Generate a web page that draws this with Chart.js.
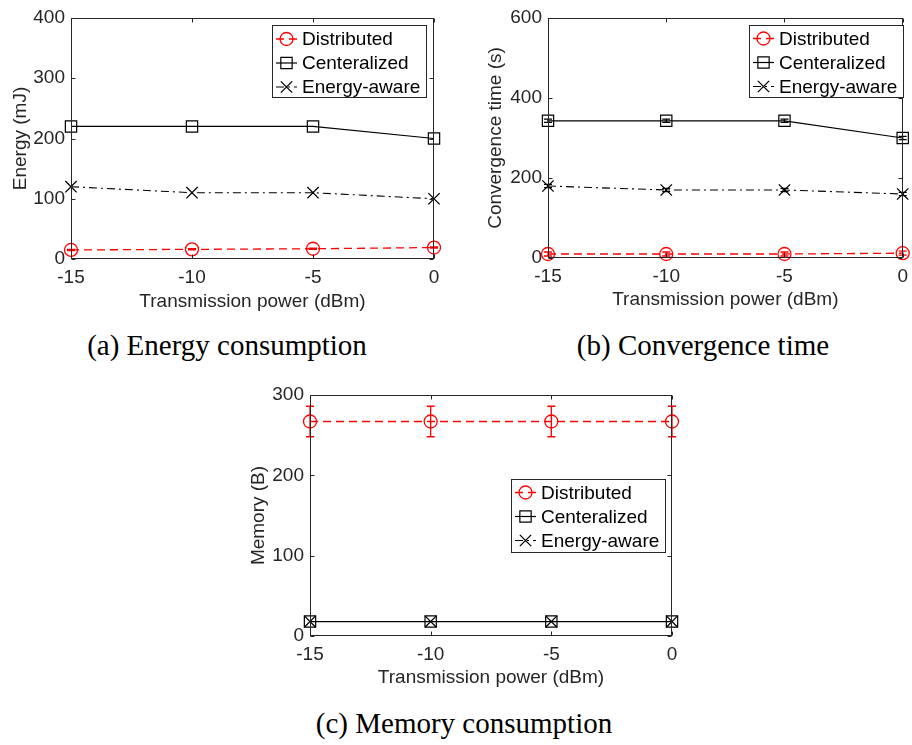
<!DOCTYPE html>
<html>
<head>
<meta charset="utf-8">
<script src="https://cdn.jsdelivr.net/npm/chart.js@4.4.0/dist/chart.umd.min.js"></script>
<style>
html,body{margin:0;padding:0;background:#fff;}
body{width:912px;height:745px;position:relative;overflow:hidden;}
.pane{position:absolute;}
.pane canvas{display:block;}
.cap{position:absolute;font-family:"Liberation Serif","Times New Roman",serif;font-size:29px;line-height:29px;white-space:nowrap;color:#000;transform:translateX(-50%);}
</style>
</head>
<body>
<div class="pane" style="left:0;top:0;width:460px;height:320px"><canvas id="ca" width="460" height="320"></canvas></div>
<div class="pane" style="left:460px;top:0;width:452px;height:320px"><canvas id="cb" width="452" height="320"></canvas></div>
<div class="pane" style="left:240px;top:380px;width:460px;height:320px"><canvas id="cc" width="460" height="320"></canvas></div>
<div class="cap" style="left:227px;top:331px">(a) Energy consumption</div>
<div class="cap" style="left:703px;top:331px">(b) Convergence time</div>
<div class="cap" style="left:464px;top:709px">(c) Memory consumption</div>
<script>
// ---------------- data ----------------
const txPower = [-15, -10, -5, 0];
const xTickValues = [-15, -10, -5, 0];
const xTickLabels = ['-15', '-10', '-5', '0'];
const seriesNames = ['Distributed', 'Centeralized', 'Energy-aware'];
const xAxisTitle = 'Transmission power (dBm)';

const energyTitle = 'Energy (mJ)';
const energyTicks = [0, 100, 200, 300, 400];
const energyDistributed = [15, 16, 17, 19];
const energyDistributedErr = [1, 1, 1, 1];
const energyCentralized = [220, 220, 220, 200];
const energyAware = [120, 110, 110, 100];

const convTitle = 'Convergence time (s)';
const convTicks = [0, 200, 400, 600];
const convDistributed = [10, 10, 10, 12];
const convDistributedErr = [5, 5, 5, 5];
const convCentralized = [343, 343, 343, 300];
const convCentralizedErr = [4, 4, 4, 4];
const convAware = [180, 170, 170, 160];
const convAwareErr = [4, 4, 4, 4];

const memTitle = 'Memory (B)';
const memTicks = [0, 100, 200, 300];
const memDistributed = [267, 267, 267, 267];
const memDistributedErr = [19, 19, 19, 19];
const memCentralized = [18, 18, 18, 18];
const memAware = [18, 18, 18, 18];

// ---------------- styling ----------------
const AX = '#262626';
const SANS = '"Liberation Sans", Arial, Helvetica, sans-serif';
const RED = '#ff0000';

function pts(ys) { return txPower.map((x, i) => ({x: x, y: ys[i]})); }

function mkDatasets(d, c, e, errs) {
  return [
    {label: seriesNames[0], data: pts(d), errors: errs[0], borderColor: RED, borderWidth: 1.3, borderDash: [8, 5],
     pointStyle: 'circle', pointRadius: 6.5, pointBorderWidth: 1.3, pointBorderColor: RED, pointBackgroundColor: 'rgba(0,0,0,0)', clip: false, order: 3},
    {label: seriesNames[1], data: pts(c), errors: errs[1], borderColor: '#000', borderWidth: 1.2, borderDash: [],
     pointStyle: 'rect', pointRadius: 8, pointBorderWidth: 1.2, pointBorderColor: '#000', pointBackgroundColor: 'rgba(0,0,0,0)', clip: false, order: 2},
    {label: seriesNames[2], data: pts(e), errors: errs[2], borderColor: '#000', borderWidth: 1.1, borderDash: [8, 4, 2, 4],
     pointStyle: 'crossRot', pointRadius: 8, pointBorderWidth: 1.3, pointBorderColor: '#000', pointBackgroundColor: 'rgba(0,0,0,0)', clip: false, order: 1}
  ];
}

const errorBarPlugin = {
  id: 'errBars',
  afterDatasetsDraw(chart) {
    const {ctx, scales: {x, y}} = chart;
    chart.data.datasets.forEach(ds => {
      if (!ds.errors) return;
      ctx.save();
      ctx.strokeStyle = ds.borderColor;
      ctx.lineWidth = 1.3;
      ctx.setLineDash([]);
      ds.data.forEach((p, i) => {
        const e = ds.errors[i];
        if (!e) return;
        const px = x.getPixelForValue(p.x);
        const y1 = y.getPixelForValue(p.y - e), y2 = y.getPixelForValue(p.y + e);
        ctx.beginPath();
        ctx.moveTo(px, y1); ctx.lineTo(px, y2);
        ctx.moveTo(px - 4, y1); ctx.lineTo(px + 4, y1);
        ctx.moveTo(px - 4, y2); ctx.lineTo(px + 4, y2);
        ctx.stroke();
      });
      ctx.restore();
    });
  }
};

const boxPlugin = {
  id: 'matBox',
  afterDraw(chart) {
    const {ctx, chartArea: a, scales: {x, y}} = chart;
    const L = Math.round(a.left) + 0.5, R = Math.round(a.right) - 0.5;
    const T = Math.round(a.top) + 0.5, B = Math.round(a.bottom) - 0.5;
    ctx.save();
    ctx.strokeStyle = AX;
    ctx.lineWidth = 1;
    ctx.setLineDash([]);
    ctx.strokeRect(L, T, R - L, B - T);
    const tl = 4;
    ctx.beginPath();
    x.ticks.forEach(t => {
      const px = Math.round(x.getPixelForValue(t.value)) + 0.5;
      ctx.moveTo(px, B); ctx.lineTo(px, B - tl);
      ctx.moveTo(px, T); ctx.lineTo(px, T + tl);
    });
    y.ticks.forEach(t => {
      const py = Math.round(y.getPixelForValue(t.value)) + 0.5;
      ctx.moveTo(L, py); ctx.lineTo(L + tl, py);
      ctx.moveTo(R, py); ctx.lineTo(R - tl, py);
    });
    ctx.stroke();
    ctx.restore();
  }
};

const legendPlugin = {
  id: 'matLegend',
  afterDraw(chart, args, o) {
    if (!o || o.left === undefined) return;
    const ctx = chart.ctx;
    ctx.save();
    ctx.fillStyle = '#fff';
    ctx.fillRect(o.left, o.top, o.width, o.height);
    ctx.strokeStyle = AX;
    ctx.lineWidth = 1;
    ctx.setLineDash([]);
    ctx.strokeRect(Math.round(o.left) + 0.5, Math.round(o.top) + 0.5, o.width, o.height);
    chart.data.datasets.forEach((ds, i) => {
      const cy = o.top + o.firstRow + i * o.rowGap;
      const x0 = o.left + 4, x1 = o.left + 25;
      ctx.strokeStyle = ds.borderColor;
      ctx.lineWidth = ds.borderWidth;
      ctx.setLineDash(ds.borderDash || []);
      ctx.beginPath();
      ctx.moveTo(x0, cy); ctx.lineTo(x1, cy);
      ctx.stroke();
      ctx.setLineDash([]);
      ctx.fillStyle = 'rgba(0,0,0,0)';
      ctx.strokeStyle = ds.pointBorderColor;
      ctx.lineWidth = ds.pointBorderWidth;
      Chart.helpers.drawPoint(ctx, {pointStyle: ds.pointStyle, radius: ds.pointRadius, rotation: 0, borderWidth: ds.pointBorderWidth}, (x0 + x1) / 2, cy);
      ctx.fillStyle = '#000';
      ctx.font = '19px ' + SANS;
      ctx.textBaseline = 'middle';
      ctx.textAlign = 'left';
      ctx.fillText(ds.label, o.left + 30, cy + 1);
    });
    ctx.restore();
  }
};

function mkChart(id, geom, yTitle, yTicks, datasets, legend) {
  const yMax = yTicks[yTicks.length - 1];
  return new Chart(document.getElementById(id), {
    type: 'line',
    data: {datasets: datasets},
    plugins: [errorBarPlugin, boxPlugin, legendPlugin],
    options: {
      responsive: false,
      animation: false,
      events: [],
      layout: {padding: {left: 0, top: geom.top, right: geom.right, bottom: 0}},
      plugins: {legend: {display: false}, tooltip: {enabled: false}, matLegend: legend},
      scales: {
        x: {
          type: 'linear', min: xTickValues[0], max: xTickValues[xTickValues.length - 1],
          grid: {display: false, drawTicks: false}, border: {display: false},
          afterBuildTicks: s => { s.ticks = xTickValues.map(v => ({value: v})); },
          afterFit: s => { s.height = geom.xH; s.paddingLeft = 0; s.paddingRight = 0; },
          ticks: {autoSkip: false, maxRotation: 0, padding: 7, color: AX, font: {family: SANS, size: 19, lineHeight: 1.2},
                  callback: (v) => xTickLabels[xTickValues.indexOf(v)]},
          title: {display: true, text: xAxisTitle, color: AX, font: {family: SANS, size: 19, lineHeight: 1.2}, padding: {top: 0, bottom: geom.xTitlePad}}
        },
        y: {
          type: 'linear', min: yTicks[0], max: yMax,
          grid: {display: false, drawTicks: false}, border: {display: false},
          afterBuildTicks: s => { s.ticks = yTicks.map(v => ({value: v})); },
          afterFit: s => { s.width = geom.yW; s.paddingTop = 0; s.paddingBottom = 0; },
          ticks: {autoSkip: false, padding: 6, color: AX, font: {family: SANS, size: 19, lineHeight: 1.2}},
          title: {display: true, text: yTitle, color: AX, font: {family: SANS, size: 19, lineHeight: 1.2}, padding: {top: geom.yTitlePad, bottom: 0}}
        }
      }
    }
  });
}

mkChart('ca', {top: 18, right: 26, yW: 71, xH: 61, xTitlePad: 7, yTitlePad: 9},
  energyTitle, energyTicks,
  mkDatasets(energyDistributed, energyCentralized, energyAware, [energyDistributedErr, null, null]),
  {left: 272, top: 25, width: 154, height: 72, firstRow: 14, rowGap: 24});

mkChart('cb', {top: 18, right: 1, yW: 88, xH: 62, xTitlePad: 8.6, yTitlePad: 24.6},
  convTitle, convTicks,
  mkDatasets(convDistributed, convCentralized, convAware, [convDistributedErr, convCentralizedErr, convAwareErr]),
  {left: 289, top: 25, width: 154, height: 72, firstRow: 13.5, rowGap: 24});

mkChart('cc', {top: 15, right: 28, yW: 70, xH: 64, xTitlePad: 10.9, yTitlePad: 7.6},
  memTitle, memTicks,
  mkDatasets(memDistributed, memCentralized, memAware, [memDistributedErr, null, null]),
  {left: 271, top: 99, width: 154, height: 73, firstRow: 13.5, rowGap: 24});
</script>
</body>
</html>
